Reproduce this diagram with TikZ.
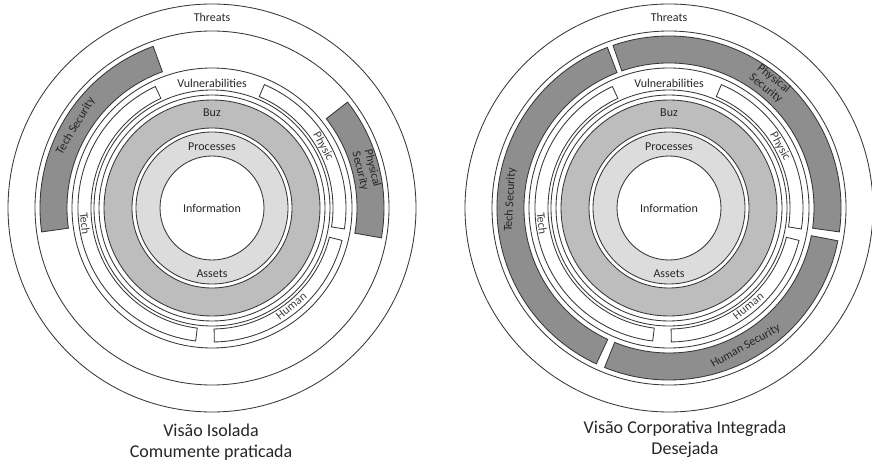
\documentclass[tikz,border=0pt]{standalone}
\usepackage{fontspec}
\setmainfont{Carlito}
\definecolor{linec}{HTML}{383838}
\definecolor{txtc}{HTML}{262626}
\definecolor{softtxt}{HTML}{404040}
\definecolor{buzc}{HTML}{BDBDBD}
\definecolor{procc}{HTML}{DCDCDC}
\definecolor{secc}{HTML}{8E8E8E}
\newcommand{\annsector}[5]{%
  \path[#1] (#2:#5) arc[start angle=#2, end angle=#3, radius=#5]
    -- (#3:#4) arc[start angle=#3, end angle=#2, radius=#4] -- cycle;}
\tikzset{
  ringline/.style={draw=linec, line width=0.85pt},
  segbox/.style={draw=linec, fill=white, line width=0.85pt},
  secband/.style={draw=linec, fill=secc, line width=0.85pt},
  lbl/.style={font=\fontsize{12}{13.5}\selectfont, text=txtc, inner sep=0pt},
  slbl/.style={font=\fontsize{12}{13.5}\selectfont, text=softtxt, inner sep=0pt},
  captext/.style={font=\fontsize{18}{21.3}\selectfont, text=txtc, align=center, inner sep=0pt},
  core/.pic={
    \draw[ringline] (0,0) circle[radius=204];
    \draw[ringline] (0,0) circle[radius=177];
    \draw[ringline] (0,0) circle[radius=140];
    \draw[ringline] (0,0) circle[radius=118];
    \draw[ringline] (0,0) circle[radius=113];
    \path[fill=buzc, even odd rule] (0,0) circle[radius=108] circle[radius=80];
    \draw[ringline] (0,0) circle[radius=108];
    \draw[ringline] (0,0) circle[radius=80];
    \path[fill=procc, even odd rule] (0,0) circle[radius=76] circle[radius=52];
    \draw[ringline] (0,0) circle[radius=76];
    \draw[ringline] (0,0) circle[radius=52];
    \annsector{segbox}{115}{263}{121}{134}
    \annsector{segbox}{-9}{67}{121}{134}
    \annsector{segbox}{-89}{-14}{121}{134}
    \node[lbl] (-threats) at (0,191) {Threats};
    \node[lbl] (-vuln) at (0,125) {Vulnerabilities};
    \node[lbl] (-buz) at (0,95) {Buz};
    \node[lbl] (-proc) at (0,61) {Processes};
    \node[lbl] (-info) at (0,0) {Information};
    \node[lbl] (-assets) at (0,-66) {Assets};
    \node[slbl, rotate=-83] (-tech) at (187:128) {Tech};
    \node[slbl, rotate=-61] (-physic) at (29:127) {Physic};
    \node[slbl, rotate=39] (-human) at (-51:126) {Human};
  }
}
\begin{document}
\begin{tikzpicture}[x=1pt,y=1pt]
\useasboundingbox (0,0) rectangle (872,463);
\fill[white] (0,0) rectangle (872,463);

% ---------- left diagram ----------
\pic (L) at (212,255) {core};
\begin{scope}[shift={(212,255)}]
  \annsector{secband}{110}{188}{145}{172}
  \annsector{secband}{-10}{38}{145}{172}
  \node[lbl, rotate=59] (Ltechsec) at (149:159) {Tech Security};
  \node[lbl, rotate=-76, align=center, font=\fontsize{12}{12.5}\selectfont] (Lphyssec) at (14:159) {Physical\\Security};
\end{scope}
\node[captext] (Lcap) at (211,21) {Visão Isolada\\Comumente praticada};

% ---------- right diagram ----------
\pic (R) at (669,255) {core};
\begin{scope}[shift={(669,255)}]
  \annsector{secband}{111}{245}{145}{172}
  \annsector{secband}{-8}{109}{145}{172}
  \annsector{secband}{-112}{-11}{145}{172}
  \node[lbl, rotate=87] (Rtechsec) at (177:159) {Tech Security};
  \node[lbl, rotate=-39, align=center, font=\fontsize{12}{12.5}\selectfont] (Rphyssec) at (51:160) {Physical\\Security};
  \node[lbl, rotate=29] (Rhumsec) at (-61:158) {Human Security};
\end{scope}
\node[captext] (Rcap) at (685,23.5) {Visão Corporativa Integrada\\Desejada};
\end{tikzpicture}
\end{document}
